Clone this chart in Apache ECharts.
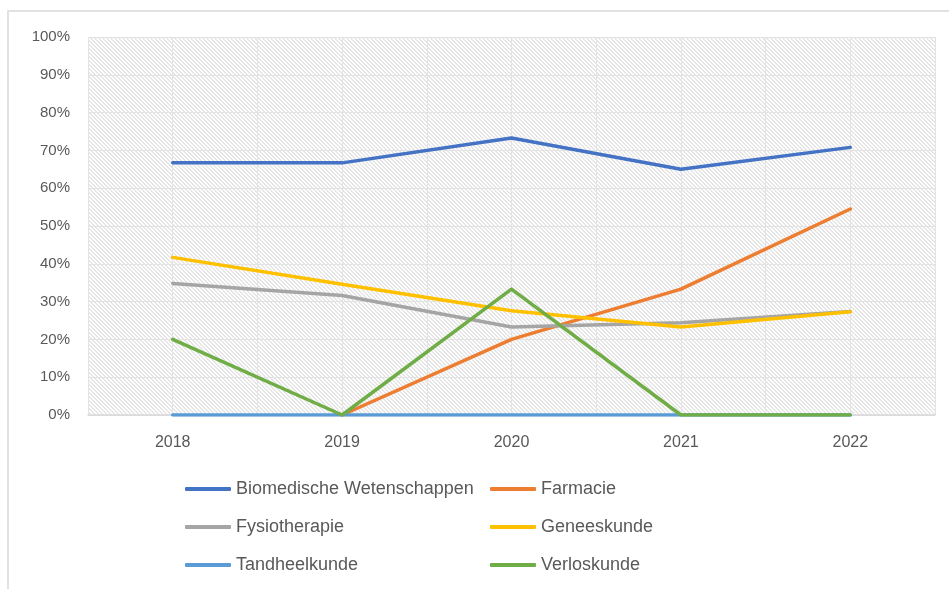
<!DOCTYPE html>
<html>
<head>
<meta charset="utf-8"/>
<title>Chart</title>
<script src="https://cdn.jsdelivr.net/npm/echarts@6/dist/echarts.min.js"></script>
<style>
  body { margin: 0; background: #fff; }
</style>
</head>
<body>
<div id="main" style="width: 949px;height:589px;"></div>
<script type="text/javascript">
// data (percent)
var years = ['2018', '2019', '2020', '2021', '2022'];
var yTicks = [0, 10, 20, 30, 40, 50, 60, 70, 80, 90, 100];
var biomedisch = [66.7, 66.7, 73.3, 65.0, 70.8];
var farmacie = [null, 0, 20.0, 33.3, 54.5];
var fysiotherapie = [34.8, 31.6, 23.3, 24.4, 27.4];
var geneeskunde = [41.7, 34.6, 27.6, 23.3, 27.3];
var tandheelkunde = [0, 0, 0, 0, 0];
var verloskunde = [20.0, 0, 33.3, 0, 0];

var names = ['Biomedische Wetenschappen', 'Farmacie', 'Fysiotherapie', 'Geneeskunde', 'Tandheelkunde', 'Verloskunde'];
var values = [biomedisch, farmacie, fysiotherapie, geneeskunde, tandheelkunde, verloskunde];
var colors = ['#4472C4', '#ED7D31', '#A5A5A5', '#FFC000', '#5B9BD5', '#70AD47'];

// hatch pattern for the plot area
var pat = document.createElement('canvas');
pat.width = 4; pat.height = 4;
var ctx = pat.getContext('2d');
ctx.fillStyle = '#ffffff';
ctx.fillRect(0, 0, 4, 4);
ctx.fillStyle = '#e6e6e6';
for (var i = 0; i < 4; i++) {
    ctx.fillRect(i, i, 1, 1);
    ctx.fillRect((i + 1) % 4, i, 1, 1);
}

// half-category slots for the vertical grid lines
var halfSlots = [];
for (var k = 0; k < years.length * 2; k++) halfSlots.push('');

var font = 'Liberation Sans';
var series = [];
for (var s = 0; s < names.length; s++) {
    series.push({
        name: names[s],
        type: 'line',
        data: values[s],
        symbol: 'none',
        color: colors[s],
        lineStyle: { width: 3.5, cap: 'round', join: 'round' },
        xAxisIndex: 0,
        yAxisIndex: 0
    });
}

var legendText = { fontFamily: font, fontSize: 18, color: '#595959' };

var myChart = echarts.init(document.getElementById('main'));
var option = {
    animation: false,
    backgroundColor: '#ffffff',
    graphic: [{
        type: 'rect',
        shape: { x: 8, y: 11, width: 960, height: 600 },
        style: { fill: 'none', stroke: '#d9d9d9', lineWidth: 1.5 },
        silent: true
    }],
    grid: {
        left: 88, right: 14, top: 37, bottom: 174,
        show: true,
        borderWidth: 0,
        backgroundColor: { image: pat, repeat: 'repeat' }
    },
    legend: [{
        data: [names[0], names[2], names[4]],
        orient: 'vertical',
        left: 180, top: 475,
        icon: 'roundRect',
        itemWidth: 46, itemHeight: 4,
        itemGap: 20,
        textStyle: legendText
    }, {
        data: [names[1], names[3], names[5]],
        orient: 'vertical',
        left: 485, top: 475,
        icon: 'roundRect',
        itemWidth: 46, itemHeight: 4,
        itemGap: 20,
        textStyle: legendText
    }],
    xAxis: [{
        type: 'category',
        data: years,
        boundaryGap: true,
        axisLine: { lineStyle: { color: '#d9d9d9', width: 1.5 } },
        axisTick: { show: false },
        splitLine: { show: false },
        axisLabel: { margin: 20, fontFamily: font, fontSize: 16, color: '#595959' }
    }, {
        type: 'category',
        data: halfSlots,
        boundaryGap: true,
        position: 'bottom',
        axisLine: { show: false },
        axisTick: { show: false },
        axisLabel: { show: false },
        splitLine: { show: true, interval: 0, lineStyle: { color: '#e3e3e3', width: 1 } }
    }],
    yAxis: {
        type: 'value',
        min: yTicks[0],
        max: yTicks[yTicks.length - 1],
        interval: 10,
        axisLine: { show: false },
        axisTick: { show: false },
        axisLabel: {
            margin: 18,
            fontFamily: font, fontSize: 15, color: '#595959',
            formatter: function (v) { return v + '%'; }
        },
        splitLine: { lineStyle: { color: '#e3e3e3', width: 1 } }
    },
    series: series
};
myChart.setOption(option);
</script>
</body>
</html>
